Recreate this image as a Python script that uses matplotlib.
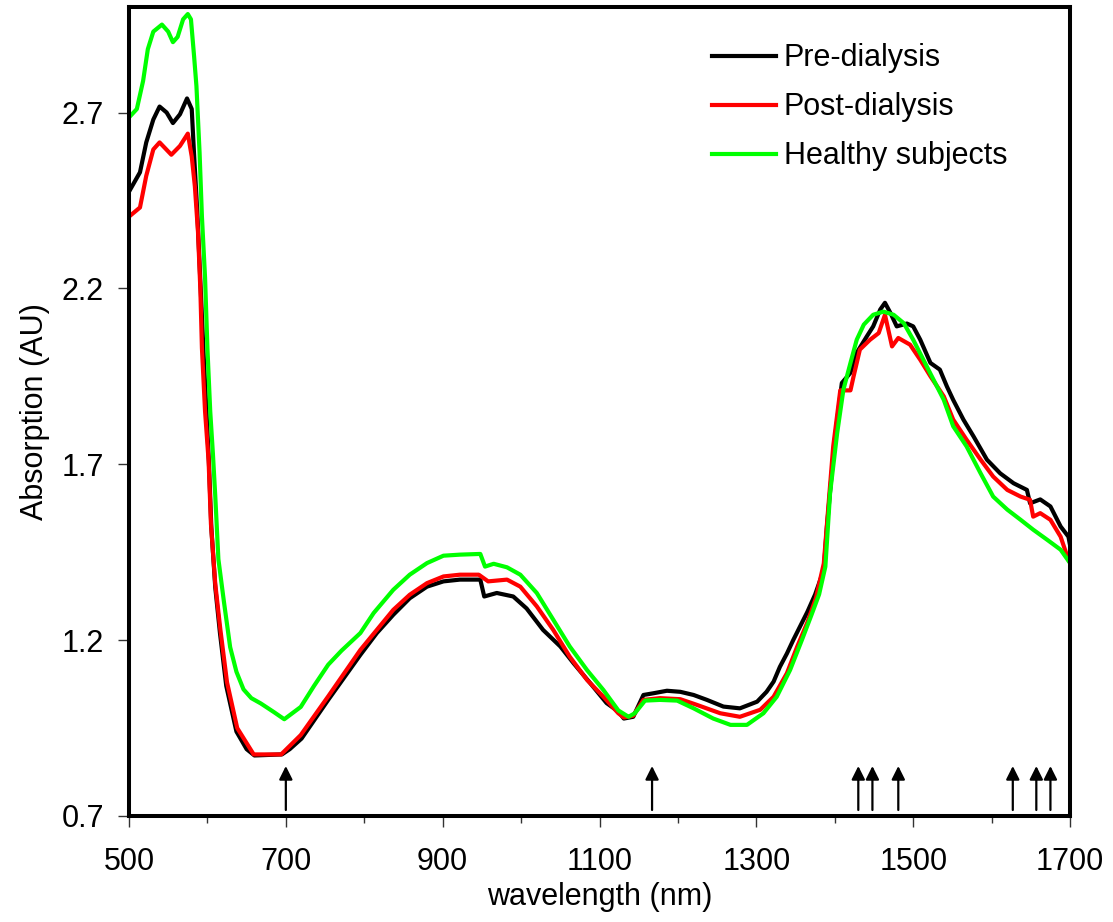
import matplotlib
matplotlib.use("Agg")
import matplotlib.pyplot as plt

plt.rcParams["font.family"] = ["Liberation Sans", "DejaVu Sans"]

# Pre-dialysis (black)
pre_nm = [500, 514, 522, 531, 539, 548, 556, 565, 574, 580, 583, 587, 591, 595,
          599, 602, 605, 610, 616, 624, 637, 650, 660, 695, 705, 720, 754, 795,
          816, 837, 858, 880, 901, 922, 948, 953, 969, 990, 1007, 1028, 1050,
          1067, 1088, 1109, 1124, 1131, 1143, 1156, 1169, 1186, 1203, 1220,
          1237, 1258, 1279, 1301, 1313, 1322, 1330, 1339, 1347, 1365, 1375,
          1386, 1390, 1400, 1409, 1420, 1428, 1441, 1449, 1458, 1464, 1471,
          1479, 1492, 1500, 1509, 1522, 1534, 1543, 1551, 1564, 1577, 1594,
          1611, 1628, 1645, 1649, 1662, 1675, 1688, 1698, 1700]
pre_abs = [2.475, 2.53, 2.615, 2.68, 2.717, 2.70, 2.67, 2.695, 2.74, 2.71, 2.58,
           2.42, 2.22, 2.02, 1.84, 1.70, 1.52, 1.35, 1.22, 1.07, 0.94, 0.89,
           0.872, 0.875, 0.89, 0.92, 1.03, 1.158, 1.22, 1.272, 1.319, 1.352,
           1.367, 1.372, 1.372, 1.324, 1.334, 1.324, 1.29, 1.229, 1.182, 1.134,
           1.078, 1.021, 0.997, 0.977, 0.982, 1.044, 1.049, 1.056, 1.053, 1.044,
           1.03, 1.011, 1.006, 1.025, 1.053, 1.082, 1.124, 1.162, 1.2, 1.28,
           1.33, 1.40, 1.523, 1.77, 1.931, 1.96, 2.017, 2.064, 2.092, 2.14,
           2.159, 2.13, 2.092, 2.10, 2.092, 2.054, 1.988, 1.969, 1.921, 1.883,
           1.827, 1.779, 1.713, 1.674, 1.646, 1.627, 1.589, 1.60, 1.58, 1.523,
           1.494, 1.47]

# Post-dialysis (red)
post_nm = [500, 514, 522, 531, 539, 554, 565, 575, 580, 584, 588, 591, 593, 597,
           601.5, 604.5, 610, 616.5, 625, 638, 659, 694, 719, 754, 795, 816, 837,
           858, 880, 901, 922, 946, 958, 982, 999, 1020, 1041, 1062, 1084, 1105,
           1124, 1131, 1143, 1156, 1177, 1203, 1224, 1254, 1279, 1305, 1322,
           1339, 1352, 1365, 1376, 1386, 1398, 1407, 1420, 1424, 1432, 1445,
           1456, 1464, 1473, 1481, 1496, 1509, 1522, 1539, 1551, 1568, 1586,
           1602, 1620, 1637, 1649, 1653, 1662, 1675, 1688, 1698, 1700]
post_abs = [2.404, 2.43, 2.52, 2.595, 2.615, 2.58, 2.605, 2.64, 2.575, 2.49,
            2.36, 2.196, 2.03, 1.85, 1.71, 1.53, 1.36, 1.23, 1.08, 0.95, 0.875,
            0.875, 0.93, 1.04, 1.172, 1.229, 1.286, 1.329, 1.362, 1.381, 1.386,
            1.386, 1.367, 1.372, 1.352, 1.296, 1.229, 1.153, 1.087, 1.039, 0.992,
            0.98, 0.985, 1.03, 1.035, 1.032, 1.016, 0.992, 0.982, 1.002, 1.039,
            1.106, 1.181, 1.25, 1.32, 1.418, 1.751, 1.91, 1.91, 1.95, 2.026,
            2.054, 2.073, 2.125, 2.035, 2.059, 2.04, 1.997, 1.95, 1.893, 1.827,
            1.77, 1.713, 1.665, 1.627, 1.608, 1.599, 1.551, 1.561, 1.542, 1.494,
            1.428, 1.42]

# Healthy subjects (green)
healthy_nm = [500, 510, 518, 524, 531, 542, 550, 556, 562, 569, 575, 579, 583,
              586, 590, 593, 597, 600, 603.6, 607, 610, 614, 621, 629, 637, 646,
              656, 668, 685, 698, 719, 736, 754, 771, 795, 812, 837, 858, 880,
              901, 922, 948, 954, 965, 982, 999, 1020, 1041, 1062, 1084, 1105,
              1124, 1137, 1145, 1158, 1177, 1199, 1220, 1245, 1267, 1288, 1309,
              1326, 1343, 1358, 1370, 1380, 1388, 1394, 1403, 1411, 1420, 1428,
              1437, 1449, 1462, 1475, 1488, 1500, 1513, 1526, 1539, 1551, 1568,
              1586, 1602, 1620, 1637, 1653, 1671, 1688, 1700]
healthy_abs = [2.686, 2.71, 2.79, 2.88, 2.93, 2.95, 2.93, 2.90, 2.915, 2.965,
               2.98, 2.965, 2.86, 2.775, 2.586, 2.404, 2.23, 2.03, 1.85, 1.73,
               1.61, 1.43, 1.31, 1.18, 1.11, 1.06, 1.035, 1.02, 0.995, 0.975,
               1.01, 1.07, 1.13, 1.17, 1.22, 1.277, 1.343, 1.386, 1.419, 1.44,
               1.443, 1.445, 1.409, 1.417, 1.407, 1.386, 1.334, 1.258, 1.182,
               1.115, 1.058, 1.0, 0.982, 0.992, 1.028, 1.03, 1.028, 1.006, 0.977,
               0.959, 0.959, 0.992, 1.039, 1.115, 1.2, 1.27, 1.33, 1.409, 1.618,
               1.788, 1.912, 1.988, 2.054, 2.097, 2.125, 2.134, 2.125, 2.101,
               2.054, 1.997, 1.94, 1.883, 1.808, 1.751, 1.674, 1.608, 1.571,
               1.542, 1.514, 1.485, 1.457, 1.419]

# marked wavelengths (arrows)
arrow_nm = [700, 1167, 1430, 1448, 1481, 1627, 1657, 1675]

fig = plt.figure(figsize=(11.13, 9.22), dpi=100)
ax = fig.add_axes([0.1159, 0.115, 0.8455, 0.8774])

ax.plot(pre_nm, pre_abs, color="black", lw=3, label="Pre-dialysis")
ax.plot(post_nm, post_abs, color="#ff0000", lw=3, label="Post-dialysis")
ax.plot(healthy_nm, healthy_abs, color="#00ff00", lw=3, label="Healthy subjects")

for x in arrow_nm:
    ax.annotate("", xy=(x, 0.842), xytext=(x, 0.717),
                arrowprops=dict(arrowstyle="-|>", color="black", lw=1.6,
                                mutation_scale=20, shrinkA=0, shrinkB=0))

ax.set_xlim(500, 1700)
ax.set_ylim(0.7, 3.0)
ax.set_xticks([500, 700, 900, 1100, 1300, 1500, 1700])
ax.set_xticks([600, 800, 1000, 1200, 1400, 1600], minor=True)
ax.set_yticks([0.7, 1.2, 1.7, 2.2, 2.7])
ax.set_yticklabels(["0.7", "1.2", "1.7", "2.2", "2.7"])
ax.tick_params(axis="both", which="major", direction="out", length=8, width=1,
               labelsize=22, color="#333333")
ax.tick_params(axis="x", which="major", pad=14)
ax.tick_params(axis="y", which="major", pad=10)
ax.tick_params(axis="x", which="minor", direction="out", length=5, width=1,
               color="#333333")

for s in ax.spines.values():
    s.set_linewidth(2.9)

ax.set_xlabel("wavelength (nm)", fontsize=22, labelpad=4)
ax.set_ylabel("Absorption (AU)", fontsize=22, labelpad=8)

ax.legend(loc="upper left", bbox_to_anchor=(0.6195, 0.955), frameon=False,
          fontsize=22, handlelength=2.1, handletextpad=0.25, labelspacing=0.62,
          borderpad=0, borderaxespad=0)

fig.savefig("out.png", dpi=100)
